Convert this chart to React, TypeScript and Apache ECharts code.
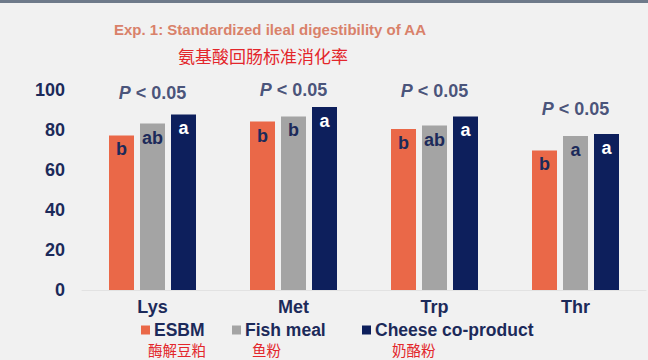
import React, { useEffect, useRef } from "react";
import * as echarts from "echarts";

const categories = ["Lys", "Met", "Trp", "Thr"];
const seriesNames = ["ESBM", "Fish meal", "Cheese co-product"];
const seriesNamesCn = ["酶解豆粕", "鱼粉", "奶酪粉"];
const esbm = [77.3, 84.2, 80.5, 69.8];
const fishMeal = [83.2, 86.8, 82.2, 77.0];
const cheese = [87.8, 91.5, 86.8, 78.0];
const esbmLetters = ["b", "b", "b", "b"];
const fishLetters = ["ab", "b", "ab", "a"];
const cheeseLetters = ["a", "a", "a", "a"];
const pText = ["P < 0.05", "P < 0.05", "P < 0.05", "P < 0.05"];
const pAnchor = [98.5, 100, 99.5, 90.5];
const yTicks = [0, 20, 40, 60, 80, 100];

const NAVY = "#0D1F5C";
const TEXT_NAVY = "#1C2A5A";
const ORANGE = "#EA6848";
const GRAY = "#A4A4A4";
const EN = "'Liberation Sans', Arial, Helvetica, sans-serif";
const CN = "'Noto Sans CJK SC', sans-serif";

const legendLefts = [141, 232, 362];
const cnLefts = [148, 252, 392];

export default function App() {
  const ref = useRef<HTMLDivElement>(null);
  useEffect(() => {
    document.body.style.margin = "0";
    const chart = echarts.init(ref.current!, null, { renderer: "svg" });
    const mkBar = (name: string, vals: number[], letters: string[], color: string, labelColor: string) => ({
      name,
      type: "bar",
      barWidth: 25,
      barGap: "24%",
      itemStyle: { color },
      data: vals.map((v, i) => ({ value: v, label: { formatter: letters[i] } })),
      label: {
        show: true,
        position: "insideTop",
        distance: 5,
        color: labelColor,
        fontSize: 18,
        fontWeight: "bold",
        fontFamily: EN,
      },
    });
    chart.setOption({
      animation: false,
      backgroundColor: "#F1F1F1",
      grid: { left: 82, right: 2, top: 90, bottom: 70 },
      legend: seriesNames.map((n, i) => ({
        data: [n],
        left: legendLefts[i],
        top: 321,
        padding: 0,
        itemWidth: 9,
        itemHeight: 9,
        icon: "rect",
        textStyle: {
          fontSize: 17.5,
          lineHeight: 17,
          fontWeight: "bold",
          color: TEXT_NAVY,
          fontFamily: EN,
          padding: [0, 0, 0, -1],
        },
      })),
      xAxis: {
        type: "category",
        data: categories,
        axisLine: { lineStyle: { color: "#E2E2E2", width: 1 } },
        axisTick: { show: false },
        axisLabel: { fontSize: 18, fontWeight: "bold", color: TEXT_NAVY, fontFamily: EN, margin: 8 },
      },
      yAxis: {
        type: "value",
        min: yTicks[0],
        max: yTicks[yTicks.length - 1],
        interval: 20,
        axisLine: { show: false },
        axisTick: { show: false },
        splitLine: { show: false },
        axisLabel: { fontSize: 18, fontWeight: "bold", color: TEXT_NAVY, fontFamily: EN, margin: 17 },
      },
      series: [
        mkBar(seriesNames[0], esbm, esbmLetters, ORANGE, TEXT_NAVY),
        mkBar(seriesNames[1], fishMeal, fishLetters, GRAY, TEXT_NAVY),
        mkBar(seriesNames[2], cheese, cheeseLetters, NAVY, "#FFFFFF"),
        {
          name: "P",
          type: "scatter",
          symbolSize: 0,
          silent: true,
          data: categories.map((c, i) => [c, pAnchor[i]]),
          label: {
            show: true,
            position: "inside",
            formatter: (p: any) => {
              const t = pText[p.dataIndex];
              return "{i|P}{n|" + t.slice(1) + "}";
            },
            rich: {
              i: { fontSize: 18, fontWeight: "bold", fontStyle: "italic", color: TEXT_NAVY, fontFamily: EN },
              n: { fontSize: 18, fontWeight: "bold", color: TEXT_NAVY, fontFamily: EN },
            },
          },
        },
      ],
      graphic: [
        { type: "rect", shape: { x: 0, y: 0, width: 648, height: 3 }, style: { fill: "#6E7A8A" } },
        {
          type: "text",
          x: 270,
          y: 29,
          style: {
            text: "Exp. 1: Standardized ileal digestibility of AA",
            align: "center",
            verticalAlign: "middle",
            fill: "#D9816A",
            font: "bold 15px " + EN,
          },
        },
        {
          type: "text",
          x: 263,
          y: 55,
          style: {
            text: "氨基酸回肠标准消化率",
            align: "center",
            verticalAlign: "middle",
            fill: "#E3262B",
            font: "17px " + CN,
          },
        },
        ...seriesNamesCn.map((t, i) => ({
          type: "text",
          x: cnLefts[i],
          y: 349.5,
          style: {
            text: t,
            verticalAlign: "middle",
            fill: "#E3262B",
            fontSize: 14.5,
            lineHeight: 15,
            fontFamily: CN,
          },
        })),
      ],
    });
    return () => chart.dispose();
  }, []);
  return <div ref={ref} style={{ width: 648, height: 360 }} />;
}
